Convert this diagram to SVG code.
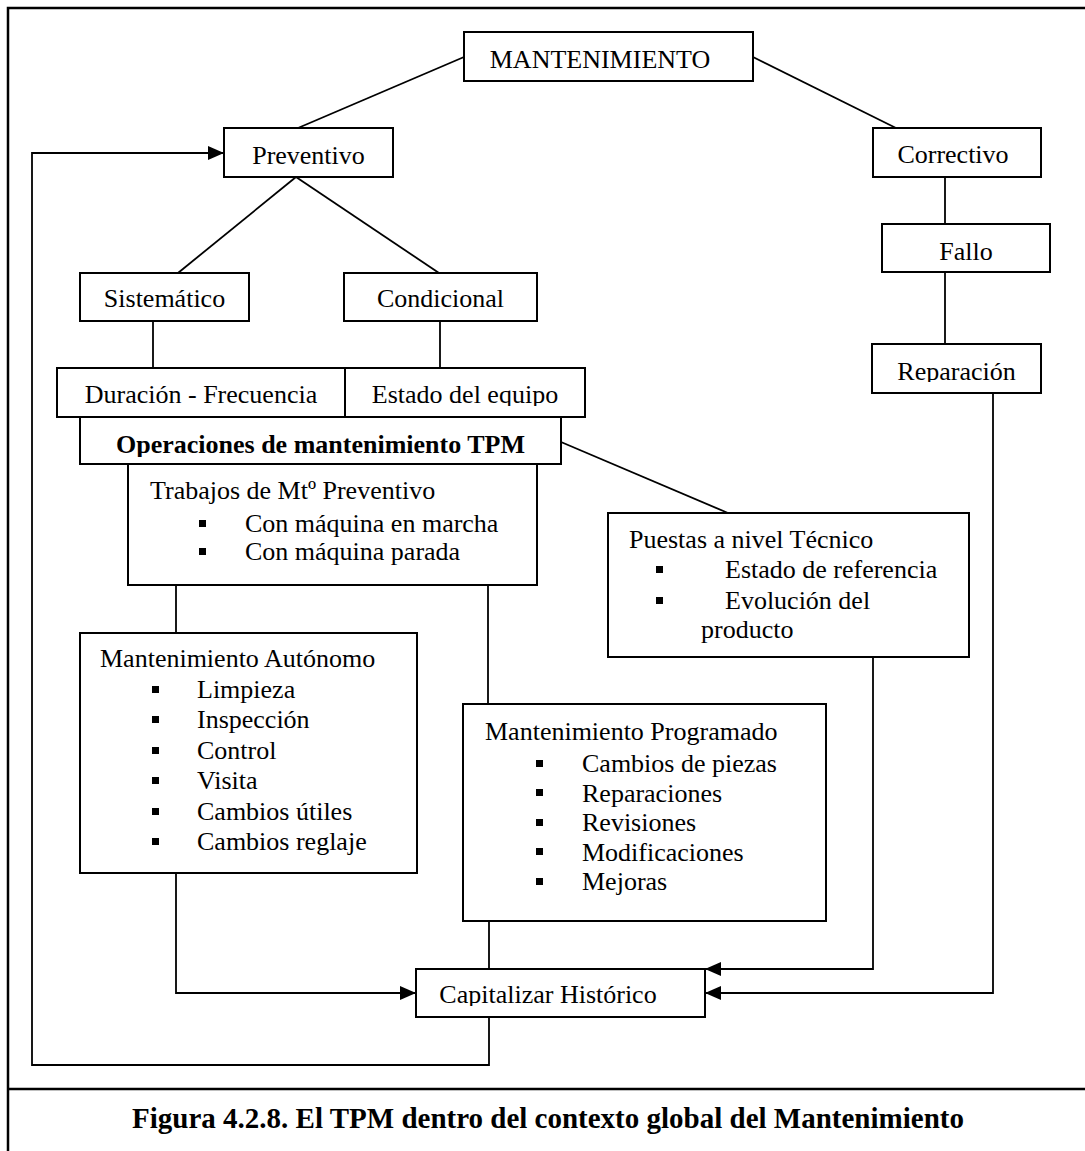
<svg xmlns="http://www.w3.org/2000/svg" width="1085" height="1151" viewBox="0 0 1085 1151">
  <defs>
    <style>
      .box { fill: #ffffff; stroke: #000000; stroke-width: 2; }
      .ln { fill: none; stroke: #000000; stroke-width: 1.8; }
      .frame { fill: none; stroke: #000000; stroke-width: 2.5; }
      .t { font-family: "Liberation Serif", "Times New Roman", serif; font-size: 26px; fill: #000000; }
      .c { text-anchor: middle; }
      .b { font-weight: bold; }
      .cap { font-family: "Liberation Serif", "Times New Roman", serif; font-size: 29px; font-weight: bold; text-anchor: middle; fill: #000000; }
      .dot { fill: #000000; }
    </style>
    <marker id="arrow" viewBox="0 0 16 14" refX="16" refY="7" markerWidth="16" markerHeight="14" markerUnits="userSpaceOnUse" orient="auto">
      <path d="M0,0 L16,7 L0,14 Z" fill="#000000"/>
    </marker>
    <!-- text boxes clip the descenders of their last line -->
    <clipPath id="clipOps"><rect x="80" y="417" width="481" height="40"/></clipPath>
    <clipPath id="clipDur"><rect x="57" y="368" width="528" height="38"/></clipPath>
    <clipPath id="clipRep"><rect x="872" y="344" width="169" height="38"/></clipPath>
    <clipPath id="clipCap"><rect x="416" y="969" width="289" height="37"/></clipPath>
  </defs>

  <!-- page frame and caption rule -->
  <g id="frame">
    <path class="frame" d="M8,1151 V8 H1085"/>
    <path class="frame" d="M8,1089 H1085"/>
  </g>

  <!-- connectors -->
  <g id="connectors">
    <path class="ln" d="M464,57 L298,128"/>
    <path class="ln" d="M753,57 L896,128"/>
    <path class="ln" d="M296,177 L178,273"/>
    <path class="ln" d="M296,177 L439,273"/>
    <path class="ln" d="M153,321 V368"/>
    <path class="ln" d="M440,321 V368"/>
    <path class="ln" d="M945,177 V224"/>
    <path class="ln" d="M945,272 V344"/>
    <path class="ln" d="M561,442 L728,513"/>
    <path class="ln" d="M176,585 V633"/>
    <path class="ln" d="M488,585 V704"/>
    <path class="ln" d="M489,921 V969"/>
    <path class="ln" d="M176,873 V993 H416" marker-end="url(#arrow)"/>
    <path class="ln" d="M873,657 V969 H705" marker-end="url(#arrow)"/>
    <path class="ln" d="M993,393 V993 H705" marker-end="url(#arrow)"/>
    <path class="ln" d="M489,1017 V1065 H32 V153 H224" marker-end="url(#arrow)"/>
  </g>

  <g id="mantenimiento">
    <rect class="box" x="464" y="32" width="289" height="49"/>
    <text class="t c" x="600" y="68">MANTENIMIENTO</text>
  </g>

  <g id="preventivo">
    <rect class="box" x="224" y="128" width="169" height="49"/>
    <text class="t c" x="308.5" y="164">Preventivo</text>
  </g>

  <g id="correctivo">
    <rect class="box" x="873" y="128" width="168" height="49"/>
    <text class="t c" x="953" y="163">Correctivo</text>
  </g>

  <g id="fallo">
    <rect class="box" x="882" y="224" width="168" height="48"/>
    <text class="t c" x="966" y="260">Fallo</text>
  </g>

  <g id="reparacion">
    <rect class="box" x="872" y="344" width="169" height="49"/>
    <text class="t c" x="956.5" y="380" clip-path="url(#clipRep)">Reparación</text>
  </g>

  <g id="sistematico">
    <rect class="box" x="80" y="273" width="169" height="48"/>
    <text class="t c" x="164.5" y="307">Sistemático</text>
  </g>

  <g id="condicional">
    <rect class="box" x="344" y="273" width="193" height="48"/>
    <text class="t c" x="440.5" y="307">Condicional</text>
  </g>

  <g id="duracion">
    <rect class="box" x="57" y="368" width="288" height="49"/>
    <text class="t c" x="201" y="403" clip-path="url(#clipDur)">Duración - Frecuencia</text>
  </g>

  <g id="estado">
    <rect class="box" x="345" y="368" width="240" height="49"/>
    <text class="t c" x="465" y="403" clip-path="url(#clipDur)">Estado del equipo</text>
  </g>

  <g id="operaciones">
    <rect class="box" x="80" y="417" width="481" height="47"/>
    <text class="t c b" x="320.5" y="453" clip-path="url(#clipOps)">Operaciones de mantenimiento TPM</text>
  </g>

  <g id="trabajos">
    <rect class="box" x="128" y="464" width="409" height="121"/>
    <text class="t" x="150" y="499">Trabajos de Mtº Preventivo</text>
    <rect class="dot" x="199" y="520" width="7" height="7"/>
    <text class="t" x="245" y="532">Con máquina en marcha</text>
    <rect class="dot" x="199" y="548" width="7" height="7"/>
    <text class="t" x="245" y="560">Con máquina parada</text>
  </g>

  <g id="puestas">
    <rect class="box" x="608" y="513" width="361" height="144"/>
    <text class="t" x="629" y="548">Puestas a nivel Técnico</text>
    <rect class="dot" x="656" y="566" width="7" height="7"/>
    <text class="t" x="725" y="578">Estado de referencia</text>
    <rect class="dot" x="656" y="597" width="7" height="7"/>
    <text class="t" x="725" y="609">Evolución del</text>
    <text class="t" x="701" y="638">producto</text>
  </g>

  <g id="autonomo">
    <rect class="box" x="80" y="633" width="337" height="240"/>
    <text class="t" x="100" y="667">Mantenimiento Autónomo</text>
    <rect class="dot" x="152" y="686" width="7" height="7"/>
    <text class="t" x="197" y="698">Limpieza</text>
    <rect class="dot" x="152" y="716" width="7" height="7"/>
    <text class="t" x="197" y="728.4">Inspección</text>
    <rect class="dot" x="152" y="747" width="7" height="7"/>
    <text class="t" x="197" y="758.8">Control</text>
    <rect class="dot" x="152" y="777" width="7" height="7"/>
    <text class="t" x="197" y="789.2">Visita</text>
    <rect class="dot" x="152" y="808" width="7" height="7"/>
    <text class="t" x="197" y="819.6">Cambios útiles</text>
    <rect class="dot" x="152" y="838" width="7" height="7"/>
    <text class="t" x="197" y="850">Cambios reglaje</text>
  </g>

  <g id="programado">
    <rect class="box" x="463" y="704" width="363" height="217"/>
    <text class="t" x="485" y="740">Mantenimiento Programado</text>
    <rect class="dot" x="536" y="760" width="7" height="7"/>
    <text class="t" x="582" y="772">Cambios de piezas</text>
    <rect class="dot" x="536" y="789" width="7" height="7"/>
    <text class="t" x="582" y="801.5">Reparaciones</text>
    <rect class="dot" x="536" y="819" width="7" height="7"/>
    <text class="t" x="582" y="831">Revisiones</text>
    <rect class="dot" x="536" y="848" width="7" height="7"/>
    <text class="t" x="582" y="860.5">Modificaciones</text>
    <rect class="dot" x="536" y="878" width="7" height="7"/>
    <text class="t" x="582" y="890">Mejoras</text>
  </g>

  <g id="capitalizar">
    <rect class="box" x="416" y="969" width="289" height="48"/>
    <text class="t c" x="548" y="1003" clip-path="url(#clipCap)">Capitalizar Histórico</text>
  </g>

  <g id="caption">
    <text class="cap" x="548" y="1128">Figura 4.2.8. El TPM dentro del contexto global del Mantenimiento</text>
  </g>
</svg>
